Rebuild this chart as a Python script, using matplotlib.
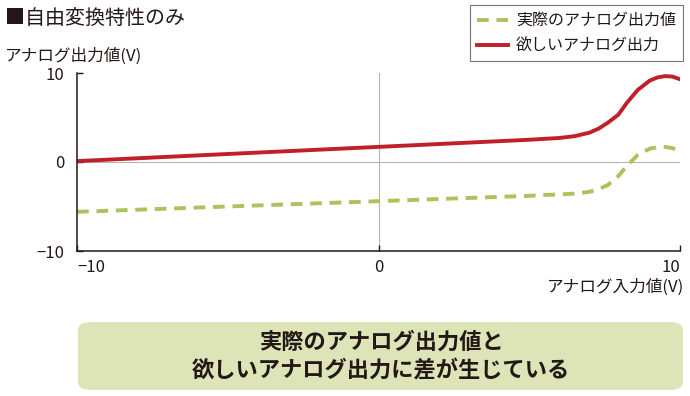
import matplotlib.pyplot as plt
from matplotlib.patches import FancyBboxPatch

plt.rcParams['font.family'] = ['Noto Sans CJK JP', 'DejaVu Sans']

x_in = [-10, -5, 0, 5, 5.5, 6, 6.5, 7, 7.3, 7.6, 7.95, 8.25, 8.6, 9.0, 9.25, 9.5, 9.75, 10]
desired = [0.1, 0.9, 1.7, 2.5, 2.6, 2.7, 2.9, 3.3, 3.75, 4.4, 5.3, 6.7, 8.1, 9.15, 9.5, 9.65, 9.6, 9.3]
actual = [-5.6, -5.0, -4.4, -3.8, -3.7, -3.65, -3.55, -3.35, -3.05, -2.6, -1.6, -0.4, 0.8, 1.5, 1.68, 1.7, 1.55, 1.25]
ticks = [-10, 0, 10]
tick_labels = ['\u221210', '0', '10']

text_c = '#231815'
red = '#c0202a'
green = '#a9c45a'

fig = plt.figure(figsize=(6.9, 3.96), dpi=100)
ax = fig.add_axes([77 / 690, 1 - 251 / 396, 603 / 690, 178 / 396])

ax.axhline(0, color='#b5b5b5', lw=0.8, zorder=1)
ax.axvline(0, color='#b5b5b5', lw=0.8, zorder=1)
l1, = ax.plot(x_in, actual, color=green, lw=2.8, ls=(0, (3, 2)), label='実際のアナログ出力値')
l2, = ax.plot(x_in, desired, color=red, lw=2.8, label='欲しいアナログ出力')

ax.set_xlim(-10, 10)
ax.set_ylim(-10, 10)
ax.set_xticks(ticks, tick_labels)
ax.set_yticks(ticks, tick_labels)
ax.tick_params(direction='in', length=4, width=1, labelsize=12, colors=text_c)
ax.tick_params(axis='y', pad=9)
ax.tick_params(axis='x', pad=6)
xl = ax.get_xticklabels()
xl[0].set_ha('left')
xl[-1].set_ha('right')
for s in ['top', 'right']:
    ax.spines[s].set_visible(False)
for s in ['left', 'bottom']:
    ax.spines[s].set_color(text_c)
    ax.spines[s].set_linewidth(1.1)

fig.text(5 / 690, 1 - 18 / 396, '■自由変換特性のみ', fontsize=14.4, color=text_c, va='center')
fig.text(5 / 690, 1 - 56 / 396, 'アナログ出力値(V)', fontsize=12, color=text_c, va='center')
fig.text(684 / 690, 1 - 287 / 396, 'アナログ入力値(V)', fontsize=12, color=text_c,
         va='center', ha='right')

leg = fig.legend(handles=[l1, l2], loc='upper right', bbox_to_anchor=(683 / 690, 1 - 5 / 396),
                 fontsize=11.5, frameon=True, fancybox=False, handlelength=1.9,
                 borderpad=0.45, labelspacing=0.5, handletextpad=0.5, borderaxespad=0)
leg.get_frame().set_edgecolor('#555555')
leg.get_frame().set_linewidth(0.8)
for t in leg.get_texts():
    t.set_color(text_c)

box = FancyBboxPatch((78 / 690, 1 - 390 / 396), 605 / 690, 68 / 396,
                     boxstyle='round,pad=0,rounding_size=0.02', transform=fig.transFigure,
                     facecolor='#dce4b8', edgecolor='none')
fig.patches.append(box)
fig.text(381 / 690, 1 - 356 / 396, '実際のアナログ出力値と\n欲しいアナログ出力に差が生じている',
         fontsize=16, fontweight='bold', color=text_c, ha='center', va='center', linespacing=1.3)

fig.savefig('out.png', dpi=100)
